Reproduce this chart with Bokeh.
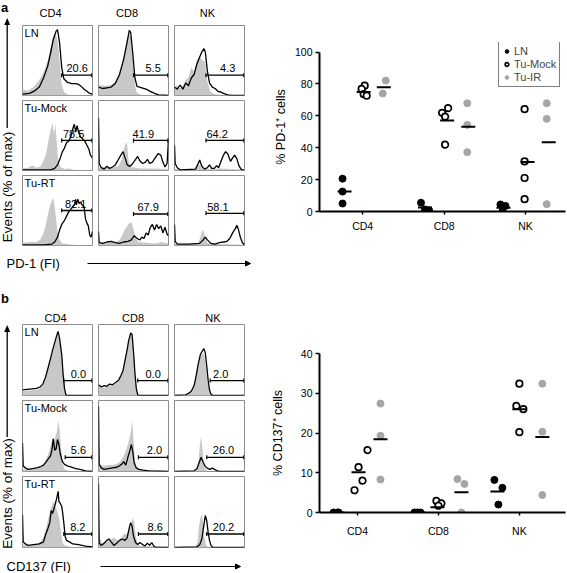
import numpy as np
from bokeh.plotting import figure
from bokeh.layouts import row, column
from bokeh.models import Range1d, Label, Arrow, NormalHead, FixedTicker, Legend, LegendItem, Div
from bokeh.embed import file_html
from bokeh.resources import INLINE

FONT = "Liberation Sans"

# ------------------------------------------------------------------ data
CELL_TYPES = ["CD4", "CD8", "NK"]
CONDITIONS = ["LN", "Tu-Mock", "Tu-RT"]
GROUPS = ["LN", "Tu-Mock", "Tu-IR"]

# scatter: % PD-1+ cells (per cell type: CD4, CD8, NK)
PD1_LN = [[20.6, 12.5, 5.0], [5.5, 1.3, 0.8], [4.4, 3.5, 0.2]]
PD1_MOCK = [[78.9, 76.9, 73.6, 72.6], [64.8, 61.9, 59.5, 41.9], [64.2, 31.4, 21.0, 7.7]]
PD1_IR = [[82.1, 74.0], [67.9, 54.3, 37.2], [67.9, 58.1, 4.6]]
PD1_MEAN_LN = [12.5, 2.5, 2.3]
PD1_MEAN_MOCK = [75.0, 57.0, 31.0]
PD1_MEAN_IR = [78.0, 53.2, 43.5]
PD1_YTICKS = [0, 20, 40, 60, 80, 100]

# scatter: % CD137+ cells
CD137_LN = [[0.0, 0.0, 0.0], [0.0, 0.0, 0.0], [8.2, 6.2, 2.0]]
CD137_MOCK = [[15.7, 11.4, 8.0, 5.6], [2.9, 2.3, 1.7], [32.4, 26.8, 26.0, 20.2]]
CD137_IR = [[27.4, 19.3, 8.3], [8.4, 7.2, 0.0], [32.4, 20.3, 4.4]]
CD137_MEAN_LN = [0.0, 0.0, 5.3]
CD137_MEAN_MOCK = [10.1, 1.3, 26.0]
CD137_MEAN_IR = [18.4, 5.1, 19.0]
CD137_YTICKS = [0, 10, 20, 30, 40]

# gate percentages shown in histograms (rows LN, Tu-Mock, Tu-RT; cols CD4, CD8, NK)
PD1_GATE_PCT = [[20.6, 5.5, 4.3], [78.5, 41.9, 64.2], [82.1, 67.9, 58.1]]
CD137_GATE_PCT = [[0.0, 0.0, 2.0], [5.6, 2.0, 26.0], [8.2, 8.6, 20.2]]

# histograms: (fluorescence channel, % of max); ISO = grey control, other = black line
A_LN_CD4_ISO = [(0,8),(8,7),(16,12),(24,22),(30,33),(36,50),(40,68),(44,85),(47,88),(50,80),(53,50),(56,15),(60,4),(66,1),(100,0)]
A_LN_CD4_PD1 = [(0,2),(10,3),(18,7),(24,12),(30,25),(36,42),(40,60),(44,80),(48,92),(50,94),(53,75),(56,40),(59,24),(64,19),(70,17),(76,17),(80,16),(84,13),(88,9),(92,6),(96,3),(100,2)]
A_LN_CD8_ISO = [(0,15),(10,14),(18,15),(24,20),(30,32),(36,55),(40,75),(43,88),(46,85),(49,55),(52,15),(55,4),(60,1),(100,0)]
A_LN_CD8_PD1 = [(0,12),(6,10),(12,11),(18,12),(24,17),(30,30),(36,52),(40,72),(44,93),(46,90),(49,60),(52,25),(55,13),(62,11),(68,9),(74,6),(80,3),(86,1),(100,0)]
A_LN_NK_ISO = [(0,5),(3,15),(7,10),(12,14),(16,22),(20,26),(24,40),(28,34),(32,50),(36,56),(40,50),(44,48),(47,20),(51,6),(56,2),(62,1),(100,0)]
A_LN_NK_PD1 = [(0,12),(4,9),(8,15),(12,9),(16,18),(20,14),(24,25),(28,30),(32,45),(36,55),(39,62),(42,67),(44,62),(47,35),(50,18),(54,12),(58,10),(62,6),(66,5),(70,3),(76,1),(82,0),(100,0)]
A_MOCK_CD4_ISO = [(0,3),(8,4),(14,7),(20,4),(26,6),(30,14),(34,25),(37,42),(40,58),(43,68),(45,52),(47,66),(49,40),(51,15),(54,5),(60,2),(66,3),(72,1),(100,0)]
A_MOCK_CD4_PD1 = [(0,1),(20,1),(40,1),(46,3),(50,8),(54,18),(57,27),(60,32),(63,40),(66,42),(69,48),(72,60),(74,66),(76,55),(78,64),(80,55),(83,48),(86,45),(89,42),(92,36),(95,30),(97,22),(100,18)]
A_MOCK_CD8_ISO = [(0,4),(10,5),(20,4),(28,6),(33,15),(36,30),(39,40),(41,38),(43,12),(46,5),(60,3),(80,3),(100,2)]
A_MOCK_CD8_PD1 = [(0,75),(1,10),(4,4),(8,2),(12,6),(16,3),(20,5),(24,8),(28,15),(32,22),(35,27),(38,18),(41,8),(45,6),(49,10),(53,16),(56,20),(59,14),(63,10),(67,12),(70,16),(73,10),(77,12),(81,18),(85,24),(89,22),(92,12),(95,5),(98,10),(100,45)]
A_MOCK_NK_ISO = [(0,2),(20,1),(30,2),(34,6),(36,9),(38,5),(42,2),(60,2),(66,3),(100,1)]
A_MOCK_NK_PD1 = [(0,36),(1,10),(4,4),(8,1),(30,2),(33,8),(36,15),(39,6),(43,2),(47,4),(50,8),(53,3),(57,3),(60,7),(63,4),(66,12),(70,22),(73,27),(76,24),(80,13),(83,18),(86,22),(89,17),(92,7),(95,2),(100,0)]
A_RT_CD4_ISO = [(0,4),(10,5),(20,5),(26,9),(30,18),(34,32),(38,52),(41,62),(44,68),(46,55),(48,38),(50,20),(53,8),(57,3),(64,2),(72,1),(100,0)]
A_RT_CD4_PD1 = [(0,1),(30,1),(42,2),(46,5),(50,12),(53,22),(56,30),(60,36),(63,42),(66,48),(69,52),(72,55),(74,58),(76,66),(77,58),(79,66),(81,60),(83,62),(85,58),(88,55),(90,38),(92,32),(94,28),(96,15),(98,12),(100,20)]
A_RT_CD8_ISO = [(0,5),(10,4),(20,5),(28,6),(33,12),(37,22),(41,28),(44,32),(47,33),(50,24),(53,10),(57,5),(70,4),(80,3),(90,5),(100,3)]
A_RT_CD8_PD1 = [(0,20),(1,4),(6,3),(12,5),(18,6),(24,4),(30,3),(36,5),(42,6),(47,8),(51,14),(55,10),(59,8),(62,12),(65,10),(68,18),(71,15),(74,26),(77,30),(80,22),(83,30),(86,24),(89,28),(92,18),(95,26),(98,16),(100,14)]
A_RT_NK_ISO = [(0,2),(20,2),(34,4),(37,12),(40,22),(42,20),(44,10),(47,4),(60,2),(100,1)]
A_RT_NK_PD1 = [(0,30),(1,6),(4,2),(20,2),(36,3),(41,8),(44,12),(47,8),(52,3),(58,2),(64,4),(70,5),(75,6),(79,10),(83,18),(87,24),(89,29),(91,24),(94,12),(97,4),(100,1)]

B_LN_CD4_ISO = [(0,6),(10,7),(20,8),(25,10),(29,14),(33,23),(36,34),(40,49),(43,61),(47,75),(50,85),(51,87),(53,77),(56,55),(58,27),(60,8),(62,0),(100,0)]
B_LN_CD4_CD137 = [(0,8),(10,9),(20,10),(25,12),(29,16),(33,26),(36,37),(40,52),(43,64),(47,78),(50,88),(51,90),(53,80),(56,58),(58,30),(60,10),(62,1),(64,0),(100,0)]
B_LN_CD8_ISO = [(0,12),(8,11),(16,13),(24,16),(29,20),(32,26),(35,33),(38,48),(41,63),(43,75),(46,85),(48,84),(50,60),(52,30),(54,8),(56,0),(100,0)]
B_LN_CD8_CD137 = [(0,15),(4,12),(8,14),(12,13),(16,16),(20,15),(24,18),(29,22),(32,28),(35,35),(38,50),(41,65),(43,77),(46,88),(48,86),(50,62),(52,32),(54,10),(56,1),(58,0),(100,0)]
B_LN_NK_ISO = [(0,0),(18,1),(22,3),(26,8),(29,18),(32,35),(35,50),(38,57),(41,60),(43,55),(45,38),(47,20),(50,5),(53,0),(100,0)]
B_LN_NK_CD137 = [(0,0),(16,1),(20,3),(24,6),(28,14),(31,28),(34,45),(37,58),(40,63),(42,66),(44,60),(46,42),(48,22),(50,8),(52,2),(55,0),(100,0)]
B_MOCK_CD4_ISO = [(0,3),(10,3),(20,4),(26,6),(30,10),(34,18),(37,25),(40,35),(43,48),(45,42),(47,50),(49,55),(51,72),(53,60),(55,35),(57,12),(60,3),(66,1),(100,0)]
B_MOCK_CD4_CD137 = [(0,40),(1,8),(4,5),(8,3),(14,4),(20,5),(26,7),(30,9),(34,14),(37,18),(40,22),(42,30),(44,46),(46,30),(48,32),(50,45),(52,38),(54,25),(57,14),(60,10),(64,8),(70,6),(76,4),(82,3),(90,1),(100,0)]
B_MOCK_CD8_ISO = [(0,10),(8,8),(16,9),(24,10),(30,13),(34,18),(37,24),(40,32),(43,42),(46,55),(48,72),(50,45),(52,15),(55,5),(60,2),(100,1)]
B_MOCK_CD8_CD137 = [(0,92),(1,10),(4,5),(8,3),(14,4),(20,5),(26,6),(30,8),(33,10),(36,14),(39,9),(42,20),(45,30),(47,38),(49,28),(51,12),(54,5),(58,3),(64,2),(72,1),(100,0)]
B_MOCK_NK_ISO = [(0,0),(30,1),(34,10),(36,35),(38,50),(40,32),(42,8),(45,2),(50,0),(100,0)]
B_MOCK_NK_CD137 = [(0,0),(28,1),(32,4),(35,12),(38,20),(41,13),(44,7),(48,4),(51,3),(54,5),(57,3),(61,1),(65,0),(100,0)]
B_RT_CD4_ISO = [(0,3),(10,4),(20,5),(26,8),(30,15),(34,28),(37,42),(40,55),(43,62),(45,65),(47,58),(49,54),(51,46),(53,38),(55,22),(57,8),(60,3),(68,1),(100,0)]
B_RT_CD4_CD137 = [(0,46),(1,8),(4,5),(8,3),(16,4),(24,5),(30,8),(33,18),(36,26),(39,35),(41,52),(43,48),(45,55),(47,62),(49,70),(51,79),(52,65),(54,62),(56,58),(57,52),(59,35),(61,15),(63,10),(67,8),(72,5),(80,4),(90,2),(100,1)]
B_RT_CD8_ISO = [(0,5),(2,14),(5,6),(10,8),(16,10),(22,14),(28,10),(33,14),(37,20),(40,18),(43,25),(46,30),(49,42),(51,36),(53,18),(56,5),(60,2),(100,1)]
B_RT_CD8_CD137 = [(0,90),(1,6),(4,3),(8,6),(12,10),(15,12),(18,8),(22,3),(26,6),(30,10),(34,12),(38,10),(41,14),(44,28),(46,35),(48,30),(50,16),(53,7),(56,4),(59,7),(62,5),(66,2),(70,6),(73,3),(76,7),(79,2),(82,0),(100,0)]
B_RT_NK_ISO = [(0,0),(30,1),(33,8),(35,30),(37,42),(39,46),(41,35),(43,14),(45,4),(48,0),(100,0)]
B_RT_NK_CD137 = [(0,0),(32,1),(36,4),(39,12),(42,32),(44,45),(46,38),(48,22),(50,10),(52,3),(55,0),(100,0)]

A_HISTS = [[(A_LN_CD4_ISO, A_LN_CD4_PD1), (A_LN_CD8_ISO, A_LN_CD8_PD1), (A_LN_NK_ISO, A_LN_NK_PD1)],
           [(A_MOCK_CD4_ISO, A_MOCK_CD4_PD1), (A_MOCK_CD8_ISO, A_MOCK_CD8_PD1), (A_MOCK_NK_ISO, A_MOCK_NK_PD1)],
           [(A_RT_CD4_ISO, A_RT_CD4_PD1), (A_RT_CD8_ISO, A_RT_CD8_PD1), (A_RT_NK_ISO, A_RT_NK_PD1)]]
B_HISTS = [[(B_LN_CD4_ISO, B_LN_CD4_CD137), (B_LN_CD8_ISO, B_LN_CD8_CD137), (B_LN_NK_ISO, B_LN_NK_CD137)],
           [(B_MOCK_CD4_ISO, B_MOCK_CD4_CD137), (B_MOCK_CD8_ISO, B_MOCK_CD8_CD137), (B_MOCK_NK_ISO, B_MOCK_NK_CD137)],
           [(B_RT_CD4_ISO, B_RT_CD4_CD137), (B_RT_CD8_ISO, B_RT_CD8_CD137), (B_RT_NK_ISO, B_RT_NK_CD137)]]

# ------------------------------------------------------------------ layout constants
ISO_FILL = "#c8c8c8"
DOT_GREY = "#a6a6a6"
PANEL_EDGE = "#8c8c8c"
YL_W = 21
PANEL_W = 72
HSP = 4
GRID_W = 3 * PANEL_W + 2 * HSP
LEFT_W = 252
TOTAL_W = 567
SC_W = TOTAL_W - LEFT_W
SC_BORDER_LEFT = 319 - LEFT_W
GATE_END = 99

A_GATE_X0 = [[56, 50, 45], [56, 50, 45], [56, 50, 45]]
A_GATE_Y = [[29, 29, 29], [43, 43, 43], [50, 45, 46]]
A_LABEL_X = [[78, 78, 76], [73, 64, 61], [76, 71, 62]]
B_GATE_X0 = [[59, 56, 51], [61, 57, 46], [59, 57, 46]]
B_GATE_Y = [[21, 21, 21], [20, 20, 20], [19, 19, 19]]
B_LABEL_X = [[80, 78, 66], [80, 80, 70], [79, 81, 70]]

PX_PER_CAT = 81.0
PD1_DX_LN = [[-20, -20, -20], [-23, -19, -15], [-25, -20, -23]]
PD1_DX_MOCK = [[2, -1, 1, 4], [4, -2, 1, 1], [-1, -1, -1, -1]]
PD1_DX_IR = [[23, 20], [23, 23, 23], [21, 21, 21]]
PD1_MDX = [[-18, -19, -22], [1, 3, 2], [21, 24, 23]]
CD137_DX_LN = [[-24, -20, -19], [-24, -21, -18], [-25, -17, -21]]
CD137_DX_MOCK = [[10, 1, 5, -3], [-2, 3, 0], [0, -3, 4, 0]]
CD137_DX_IR = [[23, 23, 23], [19, 26, 23], [23, 23, 23]]
CD137_MDX = [[-20, -20, -22], [1, -1, 0], [23, 23, 23]]


def pix_fig(w, h):
    # decoration canvas: x, y in pixels, origin at bottom-left
    p = figure(width=w, height=h, x_range=Range1d(0, w), y_range=Range1d(0, h),
               toolbar_location=None, output_backend="svg", min_border=0,
               x_axis_type=None, y_axis_type=None)
    p.outline_line_color = None
    p.grid.visible = False
    return p


def txt(p, x, y, s, size, align="left", base="middle", bold=False, angle=0):
    p.add_layout(Label(x=x, y=y, text=s, text_font=FONT, text_font_size=size,
                       text_align=align, text_baseline=base, angle=angle,
                       text_font_style="bold" if bold else "normal", text_color="black"))


def hist_fig(h, iso, stain, gx0, gy, pct, lx, row_label):
    p = figure(width=PANEL_W, height=h, x_range=Range1d(0, 100), y_range=Range1d(0, 100),
               toolbar_location=None, output_backend="svg", min_border=1,
               x_axis_type=None, y_axis_type=None)
    p.grid.visible = False
    p.outline_line_color = PANEL_EDGE
    p.outline_line_width = 1
    p.varea(x=[a for a, _ in iso], y1=0, y2=[b for _, b in iso], fill_color=ISO_FILL)
    p.line([a for a, _ in stain], [b for _, b in stain], line_color="black", line_width=1.3)
    p.segment(x0=[gx0], y0=[gy], x1=[GATE_END], y1=[gy], line_color="black", line_width=1.3)
    p.scatter([gx0, GATE_END], [gy, gy], marker="dash", angle=np.pi / 2, size=4,
              line_color="black", line_width=1.2)
    txt(p, lx, gy + 4, f"{pct:.1f}", "11px", align="center", base="bottom")
    if row_label:
        txt(p, 3, 98, row_label, "11px", base="top")
    return p


def ylabel_strip(h, letter, letter_base, a_bottom, a_top, text_cy):
    # narrow strip: panel letter, upward arrow and rotated axis title (inline SVG)
    svg = (
        f'<svg xmlns="http://www.w3.org/2000/svg" width="{YL_W}" height="{h}" '
        f'style="display:block">'
        f'<text x="1" y="{letter_base}" font-family="{FONT}" font-weight="bold" '
        f'font-size="13px" fill="black">{letter}</text>'
        f'<line x1="7.2" y1="{a_bottom}" x2="7.2" y2="{a_top + 6}" stroke="#000" '
        f'stroke-width="1.3"/>'
        f'<polygon points="7.2,{a_top} 4.2,{a_top + 7} 10.2,{a_top + 7}" fill="#000"/>'
        f'<text transform="translate(12.3,{text_cy}) rotate(-90)" text-anchor="middle" '
        f'font-family="{FONT}" font-size="13.5px" fill="black">Events (% of max)</text>'
        f'</svg>'
    )
    return Div(text=svg, width=YL_W, height=h, margin=(0, 0, 0, 0),
               styles={"padding": "0", "margin": "0", "line-height": "0"})


def left_block(letter, letter_base, hdr_h, hdr_xs, hdr_y, panel_h, vsp, xl_h, xl_text, xl_y,
               arr_x0, arr_x1, yl_a0, yl_a1, yl_ty, hists, gx0s, gys, pcts, lxs):
    # all y positions given from the top of each canvas
    grid_h = 3 * panel_h + 2 * vsp
    yl_h = hdr_h + grid_h
    yl = ylabel_strip(yl_h, letter, letter_base, yl_a0, yl_a1, yl_ty)

    hdr = pix_fig(GRID_W, hdr_h)
    for name, hx in zip(CELL_TYPES, hdr_xs):
        txt(hdr, hx, hdr_h - hdr_y, name, "11px", align="center", base="middle")

    rows = []
    for i in range(3):
        panels = []
        for j in range(3):
            iso, stain = hists[i][j]
            panels.append(hist_fig(panel_h, iso, stain, gx0s[i][j], gys[i][j], pcts[i][j],
                                   lxs[i][j], CONDITIONS[i] if j == 0 else None))
        rows.append(row(panels, spacing=HSP))
    grid = column(rows, spacing=vsp)

    xl = pix_fig(LEFT_W, xl_h)
    txt(xl, 6, xl_h - xl_y, xl_text, "13px", base="middle")
    xl.add_layout(Arrow(end=NormalHead(size=5, fill_color="black", line_color="black"),
                        x_start=arr_x0, y_start=xl_h - xl_y, x_end=arr_x1, y_end=xl_h - xl_y,
                        line_width=1, line_color="black"))
    return column(row(yl, column(hdr, grid)), xl)


def scatter_fig(h, mb_top, mb_bottom, x_rng, y_top, y_max, yticks, ylabel, label_standoff,
                xl_standoff, ln, mock, ir, m_ln, m_mock, m_ir, dx_ln, dx_mock, dx_ir, mdx, legend):
    p = figure(width=SC_W, height=h, x_range=Range1d(*x_rng), y_range=Range1d(0, y_top),
               toolbar_location=None, output_backend="svg",
               min_border_left=SC_BORDER_LEFT, min_border_right=2, min_border_top=mb_top,
               min_border_bottom=mb_bottom)
    p.outline_line_color = None
    p.grid.visible = False
    p.xaxis.ticker = FixedTicker(ticks=[1, 2, 3])
    p.xaxis.major_label_overrides = {1: CELL_TYPES[0], 2: CELL_TYPES[1], 3: CELL_TYPES[2]}
    p.yaxis.ticker = FixedTicker(ticks=yticks)
    p.yaxis.bounds = (0, y_max)
    for ax in (p.xaxis, p.yaxis):
        ax.axis_line_width = 2
        ax.major_tick_line_width = 1.5
        ax.major_tick_in = 0
        ax.minor_tick_line_color = None
        ax.major_label_text_font = FONT
        ax.major_label_text_font_size = "10.5px"
        ax.major_label_text_color = "black"
        ax.axis_line_color = "black"
        ax.major_tick_line_color = "black"
    p.xaxis.major_tick_out = 3
    p.yaxis.major_tick_out = 4
    p.xaxis.major_label_standoff = xl_standoff
    p.yaxis.major_label_standoff = 3
    p.yaxis.axis_label = ylabel
    p.yaxis.axis_label_text_font = FONT
    p.yaxis.axis_label_text_font_size = "12.5px"
    p.yaxis.axis_label_text_font_style = "normal"
    p.yaxis.axis_label_text_color = "black"
    p.yaxis.axis_label_standoff = label_standoff

    def flat(vals, dxs):
        xs, ys = [], []
        for c, (vv, dd) in enumerate(zip(vals, dxs)):
            for v, d in zip(vv, dd):
                xs.append(c + 1 + d / PX_PER_CAT)
                ys.append(v)
        return xs, ys

    x, y = flat(ln, dx_ln)
    r_ln = p.scatter(x, y, size=7, fill_color="black", line_color="black", line_width=1)
    x, y = flat(mock, dx_mock)
    r_mock = p.scatter(x, y, size=6.5, fill_color="white", line_color="black", line_width=1.7)
    x, y = flat(ir, dx_ir)
    r_ir = p.scatter(x, y, size=7, fill_color=DOT_GREY, line_color=DOT_GREY, line_width=1)
    for gi, means in enumerate((m_ln, m_mock, m_ir)):
        xs = [c + 1 + mdx[gi][c] / PX_PER_CAT for c in range(3)]
        p.scatter(xs, means, marker="dash", size=14, line_color="black", line_width=2)
    if legend:
        leg = Legend(items=[LegendItem(label=GROUPS[0], renderers=[r_ln]),
                            LegendItem(label=GROUPS[1], renderers=[r_mock]),
                            LegendItem(label=GROUPS[2], renderers=[r_ir])],
                     location=(179, 124), orientation="vertical",
                     label_text_font=FONT, label_text_font_size="11px",
                     glyph_width=9, glyph_height=10, label_height=10, label_standoff=3,
                     spacing=1, padding=3, margin=0, border_line_color="black",
                     border_line_width=1, background_fill_alpha=1)
        p.add_layout(leg, "center")
    return p


# section a (height 275)
left_a = left_block("a", 12, 24, [29, 105.5, 186], 12, 72, 3, 29, "PD-1 (FI)", 17,
                    87, 250, 128, 18, 187, A_HISTS, A_GATE_X0, A_GATE_Y,
                    PD1_GATE_PCT, A_LABEL_X)
sc_a = scatter_fig(275, 42, 64, (0.47, 3.49), 106, 100, PD1_YTICKS, "% PD-1\u207a cells", 4, 5,
                   PD1_LN, PD1_MOCK, PD1_IR, PD1_MEAN_LN, PD1_MEAN_MOCK, PD1_MEAN_IR,
                   PD1_DX_LN, PD1_DX_MOCK, PD1_DX_IR, PD1_MDX, True)

# section b (height 298)
left_b = left_block("b", 28, 48, [34, 111.5, 191.5], 42, 73, 3, 25, "CD137 (FI)", 18,
                    100, 240, 162, 50, 218.5, B_HISTS, B_GATE_X0, B_GATE_Y,
                    CD137_GATE_PCT, B_LABEL_X)
sc_b = scatter_fig(298, 78, 61, (0.53, 3.57), 40, 40, CD137_YTICKS, "% CD137\u207a cells", 13, 9,
                   CD137_LN, CD137_MOCK, CD137_IR, CD137_MEAN_LN, CD137_MEAN_MOCK, CD137_MEAN_IR,
                   CD137_DX_LN, CD137_DX_MOCK, CD137_DX_IR, CD137_MDX, False)

layout = column(row(left_a, sc_a), row(left_b, sc_b))
open("out.html", "w").write(file_html(layout, INLINE))
